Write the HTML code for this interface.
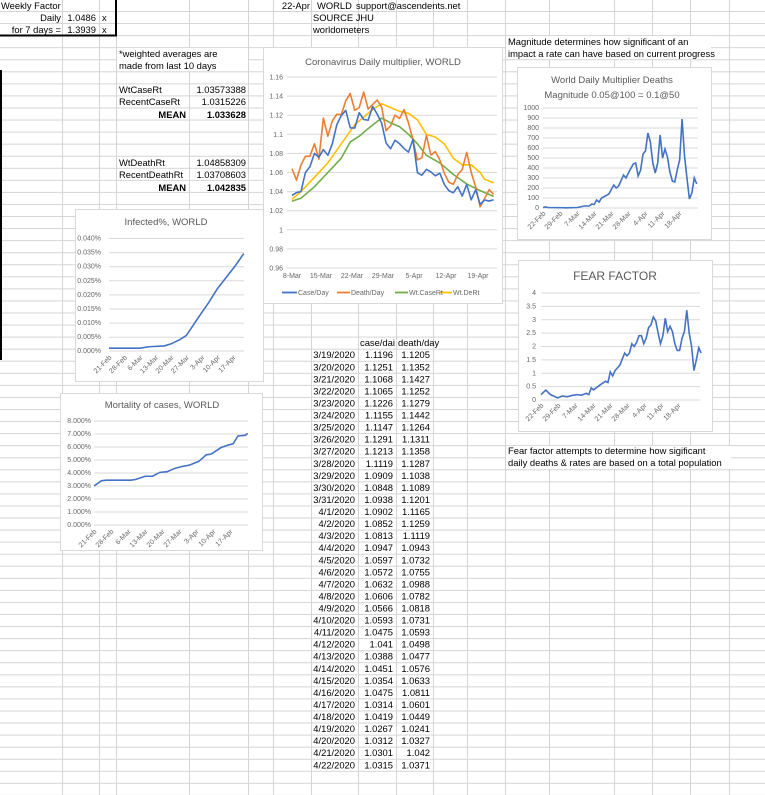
<!DOCTYPE html>
<html><head><meta charset="utf-8"><style>
html,body{margin:0;padding:0;background:#fff}
svg{display:block}
text{font-family:"Liberation Sans",sans-serif}
.c{font-size:9.4px;fill:#000}
.t{font-size:7px;fill:#666}
</style></head><body>
<svg width="765" height="795" viewBox="0 0 765 795" xmlns="http://www.w3.org/2000/svg">
<defs>
<pattern id="hr" x="0" y="11" width="765" height="12.06" patternUnits="userSpaceOnUse">
<rect x="0" y="0" width="765" height="1" fill="#d4d4d4"/>
</pattern>
</defs>
<rect width="765" height="795" fill="url(#hr)"/>
<g stroke="#d4d4d4" stroke-width="1">
<line x1="62.5" y1="0" x2="62.5" y2="795"/><line x1="99.5" y1="0" x2="99.5" y2="795"/>
<line x1="116.5" y1="0" x2="116.5" y2="795"/><line x1="189.5" y1="0" x2="189.5" y2="795"/>
<line x1="248.5" y1="0" x2="248.5" y2="795"/><line x1="273.5" y1="0" x2="273.5" y2="795"/>
<line x1="311.5" y1="0" x2="311.5" y2="795"/><line x1="358.5" y1="0" x2="358.5" y2="795"/>
<line x1="396.5" y1="0" x2="396.5" y2="795"/><line x1="433.5" y1="0" x2="433.5" y2="795"/>
<line x1="467.5" y1="0" x2="467.5" y2="795"/><line x1="505.5" y1="0" x2="505.5" y2="795"/>
<line x1="549.5" y1="0" x2="549.5" y2="795"/><line x1="614.5" y1="0" x2="614.5" y2="795"/>
<line x1="652.5" y1="0" x2="652.5" y2="795"/><line x1="690.5" y1="0" x2="690.5" y2="795"/>
<line x1="729.5" y1="0" x2="729.5" y2="795"/>
</g>
<rect x="117" y="48" width="131" height="23" fill="#fff"/>
<rect x="506" y="36" width="205" height="23" fill="#fff"/>
<rect x="506" y="446" width="225" height="23" fill="#fff"/>
<g stroke="#000" stroke-width="2">
<line x1="116" y1="0" x2="116" y2="36"/><line x1="0" y1="35.5" x2="117" y2="35.5"/>
<line x1="1" y1="70" x2="1" y2="360"/>
</g>
<text class="c" x="1" y="9">Weekly Factor</text>
<g class="c" text-anchor="end">
<text x="61" y="21">Daily</text><text x="96" y="21">1.0486</text>
<text x="61" y="33">for 7 days =</text><text x="96" y="33">1.3939</text>
</g>
<text class="c" x="102" y="21">x</text><text class="c" x="102" y="33">x</text>
<text class="c" x="119" y="57">*weighted averages are</text>
<text class="c" x="119" y="69">made from last 10 days</text>
<text class="c" x="119" y="93">WtCaseRt</text>
<text class="c" x="119" y="105">RecentCaseRt</text>
<text class="c" x="119" y="166">WtDeathRt</text>
<text class="c" x="119" y="178">RecentDeathRt</text>
<g class="c" text-anchor="end">
<text x="246" y="93">1.03573388</text><text x="246" y="105">1.0315226</text>
<text x="186" y="118" font-weight="bold">MEAN</text><text x="246" y="118" font-weight="bold">1.033628</text>
<text x="246" y="166">1.04858309</text><text x="246" y="178">1.03708603</text>
<text x="186" y="191" font-weight="bold">MEAN</text><text x="246" y="191" font-weight="bold">1.042835</text>
</g>
<text class="c" x="310" y="9" text-anchor="end">22-Apr</text>
<text class="c" x="317" y="9">WORLD</text>
<text class="c" x="356" y="9">support@ascendents.net</text>
<text class="c" x="313" y="21">SOURCE JHU</text>
<text class="c" x="313" y="33">worldometers</text>
<text class="c" x="508" y="45">Magnitude determines how significant of an</text>
<text class="c" x="508" y="57">impact a rate can have based on current progress</text>
<text class="c" x="508" y="454">Fear factor attempts to determine how sigificant</text>
<text class="c" x="508" y="466">daily deaths &amp; rates are based on a total population</text>
<text class="c" x="360" y="346">case/dai</text><text class="c" x="398" y="346">death/day</text>
<g class="c" text-anchor="end">
<text x="355" y="358.2">3/19/2020</text><text x="393" y="358.2">1.1196</text><text x="430" y="358.2">1.1205</text>
<text x="355" y="370.3">3/20/2020</text><text x="393" y="370.3">1.1251</text><text x="430" y="370.3">1.1352</text>
<text x="355" y="382.4">3/21/2020</text><text x="393" y="382.4">1.1068</text><text x="430" y="382.4">1.1427</text>
<text x="355" y="394.4">3/22/2020</text><text x="393" y="394.4">1.1065</text><text x="430" y="394.4">1.1252</text>
<text x="355" y="406.5">3/23/2020</text><text x="393" y="406.5">1.1226</text><text x="430" y="406.5">1.1279</text>
<text x="355" y="418.5">3/24/2020</text><text x="393" y="418.5">1.1155</text><text x="430" y="418.5">1.1442</text>
<text x="355" y="430.6">3/25/2020</text><text x="393" y="430.6">1.1147</text><text x="430" y="430.6">1.1264</text>
<text x="355" y="442.7">3/26/2020</text><text x="393" y="442.7">1.1291</text><text x="430" y="442.7">1.1311</text>
<text x="355" y="454.7">3/27/2020</text><text x="393" y="454.7">1.1213</text><text x="430" y="454.7">1.1358</text>
<text x="355" y="466.8">3/28/2020</text><text x="393" y="466.8">1.1119</text><text x="430" y="466.8">1.1287</text>
<text x="355" y="478.8">3/29/2020</text><text x="393" y="478.8">1.0909</text><text x="430" y="478.8">1.1038</text>
<text x="355" y="490.9">3/30/2020</text><text x="393" y="490.9">1.0848</text><text x="430" y="490.9">1.1089</text>
<text x="355" y="503.0">3/31/2020</text><text x="393" y="503.0">1.0938</text><text x="430" y="503.0">1.1201</text>
<text x="355" y="515.0">4/1/2020</text><text x="393" y="515.0">1.0902</text><text x="430" y="515.0">1.1165</text>
<text x="355" y="527.1">4/2/2020</text><text x="393" y="527.1">1.0852</text><text x="430" y="527.1">1.1259</text>
<text x="355" y="539.1">4/3/2020</text><text x="393" y="539.1">1.0813</text><text x="430" y="539.1">1.1119</text>
<text x="355" y="551.2">4/4/2020</text><text x="393" y="551.2">1.0947</text><text x="430" y="551.2">1.0943</text>
<text x="355" y="563.3">4/5/2020</text><text x="393" y="563.3">1.0597</text><text x="430" y="563.3">1.0732</text>
<text x="355" y="575.3">4/6/2020</text><text x="393" y="575.3">1.0572</text><text x="430" y="575.3">1.0755</text>
<text x="355" y="587.4">4/7/2020</text><text x="393" y="587.4">1.0632</text><text x="430" y="587.4">1.0988</text>
<text x="355" y="599.4">4/8/2020</text><text x="393" y="599.4">1.0606</text><text x="430" y="599.4">1.0782</text>
<text x="355" y="611.5">4/9/2020</text><text x="393" y="611.5">1.0566</text><text x="430" y="611.5">1.0818</text>
<text x="355" y="623.6">4/10/2020</text><text x="393" y="623.6">1.0593</text><text x="430" y="623.6">1.0731</text>
<text x="355" y="635.6">4/11/2020</text><text x="393" y="635.6">1.0475</text><text x="430" y="635.6">1.0593</text>
<text x="355" y="647.7">4/12/2020</text><text x="393" y="647.7">1.041</text><text x="430" y="647.7">1.0498</text>
<text x="355" y="659.7">4/13/2020</text><text x="393" y="659.7">1.0388</text><text x="430" y="659.7">1.0477</text>
<text x="355" y="671.8">4/14/2020</text><text x="393" y="671.8">1.0451</text><text x="430" y="671.8">1.0576</text>
<text x="355" y="683.9">4/15/2020</text><text x="393" y="683.9">1.0354</text><text x="430" y="683.9">1.0633</text>
<text x="355" y="695.9">4/16/2020</text><text x="393" y="695.9">1.0475</text><text x="430" y="695.9">1.0811</text>
<text x="355" y="708.0">4/17/2020</text><text x="393" y="708.0">1.0314</text><text x="430" y="708.0">1.0601</text>
<text x="355" y="720.0">4/18/2020</text><text x="393" y="720.0">1.0419</text><text x="430" y="720.0">1.0449</text>
<text x="355" y="732.1">4/19/2020</text><text x="393" y="732.1">1.0267</text><text x="430" y="732.1">1.0241</text>
<text x="355" y="744.2">4/20/2020</text><text x="393" y="744.2">1.0312</text><text x="430" y="744.2">1.0327</text>
<text x="355" y="756.2">4/21/2020</text><text x="393" y="756.2">1.0301</text><text x="430" y="756.2">1.042</text>
<text x="355" y="768.3">4/22/2020</text><text x="393" y="768.3">1.0315</text><text x="430" y="768.3">1.0371</text>
</g>

<rect x="263.5" y="47.5" width="239" height="256" fill="#fff" stroke="#d9d9d9"/>
<text x="383" y="65" text-anchor="middle" font-size="9.5" fill="#595959">Coronavirus Daily multiplier, WORLD</text>
<g stroke="#d9d9d9" stroke-width="1">
<line x1="287" x2="497" y1="77" y2="77"/><line x1="287" x2="497" y1="96.1" y2="96.1"/>
<line x1="287" x2="497" y1="115.2" y2="115.2"/><line x1="287" x2="497" y1="134.3" y2="134.3"/>
<line x1="287" x2="497" y1="153.4" y2="153.4"/><line x1="287" x2="497" y1="172.5" y2="172.5"/>
<line x1="287" x2="497" y1="191.6" y2="191.6"/><line x1="287" x2="497" y1="210.7" y2="210.7"/>
<line x1="287" x2="497" y1="229.8" y2="229.8"/><line x1="287" x2="497" y1="248.9" y2="248.9"/>
<line x1="287" x2="497" y1="268" y2="268"/>
</g>
<g class="t" text-anchor="end" font-size="6.5">
<text x="283" y="79.5">1.16</text><text x="283" y="98.6">1.14</text><text x="283" y="117.7">1.12</text>
<text x="283" y="136.8">1.1</text><text x="283" y="155.9">1.08</text><text x="283" y="175">1.06</text>
<text x="283" y="194.1">1.04</text><text x="283" y="213.2">1.02</text><text x="283" y="232.3">1</text>
<text x="283" y="251.4">0.98</text><text x="283" y="270.5">0.96</text>
</g>
<g class="t" text-anchor="middle" font-size="6.5">
<text x="292" y="278">8-Mar</text><text x="321" y="278">15-Mar</text><text x="352" y="278">22-Mar</text>
<text x="383" y="278">29-Mar</text><text x="414" y="278">5-Apr</text><text x="446" y="278">12-Apr</text>
<text x="478" y="278">19-Apr</text>
</g>
<g fill="none" stroke-width="1.6" stroke-linejoin="round" transform="matrix(4.48 0 0 -955 292 1184.8)">
<polyline vector-effect="non-scaling-stroke" stroke="#ffc000" points="0,1.032 2,1.04 5,1.055 8,1.07 11,1.09 14,1.11 16,1.118 18,1.126 20,1.132 22,1.128 24,1.124 26,1.122 28,1.115 30,1.1 32,1.097 34,1.09 36,1.075 38,1.068 40,1.068 42,1.06 43,1.053 45,1.049"/>
<polyline vector-effect="non-scaling-stroke" stroke="#70ad47" points="0,1.030 2,1.033 5,1.045 8,1.06 11,1.075 13,1.092 15,1.098 17,1.106 20,1.117 22,1.112 24,1.108 26,1.1 28,1.09 30,1.078 33,1.07 36,1.058 39,1.048 42,1.041 45,1.035"/>
<polyline vector-effect="non-scaling-stroke" stroke="#ed7d31" points="0,1.064 1,1.052 2,1.068 3,1.077 4,1.077 5,1.09 6,1.074 7,1.117 8,1.098 9,1.114 10,1.121 11,1.1205 12,1.1352 13,1.1427 14,1.1252 15,1.1279 16,1.1442 17,1.1264 18,1.1311 19,1.1358 20,1.1287 21,1.1038 22,1.1089 23,1.1201 24,1.1165 25,1.1259 26,1.1119 27,1.0943 28,1.0732 29,1.0755 30,1.0988 31,1.0782 32,1.0818 33,1.0731 34,1.0593 35,1.0498 36,1.0477 37,1.0576 38,1.0633 39,1.0811 40,1.0601 41,1.0449 42,1.0241 43,1.0327 44,1.042 45,1.0371"/>
<polyline vector-effect="non-scaling-stroke" stroke="#4472c4" points="0,1.036 1,1.039 2,1.040 3,1.06 4,1.066 5,1.08 6,1.076 7,1.084 8,1.078 9,1.09 10,1.11 11,1.1196 12,1.1251 13,1.1068 14,1.1065 15,1.1226 16,1.1155 17,1.1147 18,1.1291 19,1.1213 20,1.1119 21,1.0909 22,1.0848 23,1.0938 24,1.0902 25,1.0852 26,1.0813 27,1.0947 28,1.0597 29,1.0572 30,1.0632 31,1.0606 32,1.0566 33,1.0593 34,1.0475 35,1.041 36,1.0388 37,1.0451 38,1.0354 39,1.0475 40,1.0314 41,1.0419 42,1.0267 43,1.0312 44,1.0301 45,1.0315"/>
</g>
<g stroke-width="1.8">
<line x1="282" x2="297" y1="292.5" y2="292.5" stroke="#4472c4"/>
<line x1="337" x2="350" y1="292.5" y2="292.5" stroke="#ed7d31"/>
<line x1="395" x2="408" y1="292.5" y2="292.5" stroke="#70ad47"/>
<line x1="440" x2="452" y1="292.5" y2="292.5" stroke="#ffc000"/>
</g>
<g class="t" font-size="6.5">
<text x="298" y="295">Case/Day</text><text x="351" y="295">Death/Day</text>
<text x="409" y="295">Wt.CaseRt</text><text x="453" y="295">Wt.DeRt</text>
</g>

<rect x="75.5" y="209.5" width="188" height="172" fill="#fff" stroke="#d9d9d9"/>
<text x="166" y="225" text-anchor="middle" font-size="9.5" fill="#595959">Infected%, WORLD</text>
<g stroke="#d9d9d9"><line x1="109" x2="244" y1="238.5" y2="238.5"/><line x1="109" x2="244" y1="252.6" y2="252.6"/><line x1="109" x2="244" y1="266.7" y2="266.7"/><line x1="109" x2="244" y1="280.8" y2="280.8"/><line x1="109" x2="244" y1="294.9" y2="294.9"/><line x1="109" x2="244" y1="309" y2="309"/><line x1="109" x2="244" y1="323.1" y2="323.1"/><line x1="109" x2="244" y1="337.2" y2="337.2"/><line x1="109" x2="244" y1="351" y2="351"/></g>
<g class="t" font-size="5.5" text-anchor="end">
<text x="101" y="240.5">0.040%</text><text x="101" y="254.6">0.035%</text><text x="101" y="268.7">0.030%</text><text x="101" y="282.8">0.025%</text><text x="101" y="296.9">0.020%</text><text x="101" y="311">0.015%</text><text x="101" y="325.1">0.010%</text><text x="101" y="339.2">0.005%</text><text x="101" y="353">0.000%</text>
</g>
<g class="t" font-size="5.5" text-anchor="end">
<text transform="translate(112,358) rotate(-45)">21-Feb</text><text transform="translate(127.5,358) rotate(-45)">28-Feb</text><text transform="translate(143,358) rotate(-45)">6-Mar</text><text transform="translate(158.5,358) rotate(-45)">13-Mar</text><text transform="translate(174,358) rotate(-45)">20-Mar</text><text transform="translate(189.5,358) rotate(-45)">27-Mar</text><text transform="translate(205,358) rotate(-45)">3-Apr</text><text transform="translate(220.5,358) rotate(-45)">10-Apr</text><text transform="translate(236,358) rotate(-45)">17-Apr</text>
</g>
<polyline fill="none" stroke="#4472c4" stroke-width="1.6" vector-effect="non-scaling-stroke" transform="matrix(2.21 0 0 -2825 109 351)" points="0,0.001 14,0.001 18,0.0015 25,0.0018 28,0.0025 32,0.004 35,0.0055 38,0.009 41,0.0125 45,0.017 49,0.022 53,0.026 57,0.03 61,0.0345"/>

<rect x="60.5" y="393.5" width="202" height="157" fill="#fff" stroke="#d9d9d9"/>
<text x="162" y="408" text-anchor="middle" font-size="9.5" fill="#595959">Mortality of cases, WORLD</text>
<g stroke="#d9d9d9"><line x1="94" x2="248" y1="421" y2="421"/><line x1="94" x2="248" y1="434" y2="434"/><line x1="94" x2="248" y1="447" y2="447"/><line x1="94" x2="248" y1="460" y2="460"/><line x1="94" x2="248" y1="473" y2="473"/><line x1="94" x2="248" y1="486" y2="486"/><line x1="94" x2="248" y1="499" y2="499"/><line x1="94" x2="248" y1="512" y2="512"/><line x1="94" x2="248" y1="525" y2="525"/></g>
<g class="t" font-size="5.5" text-anchor="end">
<text x="91" y="423">8.000%</text><text x="91" y="436">7.000%</text><text x="91" y="449">6.000%</text><text x="91" y="462">5.000%</text><text x="91" y="475">4.000%</text><text x="91" y="488">3.000%</text><text x="91" y="501">2.000%</text><text x="91" y="514">1.000%</text><text x="91" y="527">0.000%</text>
</g>
<g class="t" font-size="5.5" text-anchor="end">
<text transform="translate(97,532) rotate(-45)">21-Feb</text><text transform="translate(114,532) rotate(-45)">28-Feb</text><text transform="translate(131,532) rotate(-45)">6-Mar</text><text transform="translate(148,532) rotate(-45)">13-Mar</text><text transform="translate(165,532) rotate(-45)">20-Mar</text><text transform="translate(182,532) rotate(-45)">27-Mar</text><text transform="translate(199,532) rotate(-45)">3-Apr</text><text transform="translate(216,532) rotate(-45)">10-Apr</text><text transform="translate(233,532) rotate(-45)">17-Apr</text>
</g>
<polyline fill="none" stroke="#4472c4" stroke-width="1.6" vector-effect="non-scaling-stroke" transform="matrix(2.44 0 0 -13 94 525)" points="0,3.0 3,3.4 5,3.45 15,3.45 17,3.5 21,3.75 24,3.75 27,4.05 30,4.1 33,4.35 36,4.5 39,4.6 43,4.9 46,5.4 48,5.45 52,5.95 55,6.15 57,6.25 59,6.85 62,6.9 63,7.05"/>

<rect x="517.5" y="67.5" width="194" height="172" fill="#fff" stroke="#d9d9d9"/>
<text x="612" y="83" text-anchor="middle" font-size="9.5" fill="#595959">World Daily Multiplier Deaths</text>
<text x="612" y="98" text-anchor="middle" font-size="9.5" fill="#595959">Magnitude 0.05@100 = 0.1@50</text>
<g stroke="#d9d9d9"><line x1="543" x2="698" y1="108" y2="108"/><line x1="543" x2="698" y1="118" y2="118"/><line x1="543" x2="698" y1="128" y2="128"/><line x1="543" x2="698" y1="138" y2="138"/><line x1="543" x2="698" y1="148" y2="148"/><line x1="543" x2="698" y1="158" y2="158"/><line x1="543" x2="698" y1="168" y2="168"/><line x1="543" x2="698" y1="178" y2="178"/><line x1="543" x2="698" y1="188" y2="188"/><line x1="543" x2="698" y1="198" y2="198"/><line x1="543" x2="698" y1="208" y2="208"/></g>
<g class="t" font-size="5.5" text-anchor="end">
<text x="539" y="110">1000</text><text x="539" y="120">900</text><text x="539" y="130">800</text><text x="539" y="140">700</text><text x="539" y="150">600</text><text x="539" y="160">500</text><text x="539" y="170">400</text><text x="539" y="180">300</text><text x="539" y="190">200</text><text x="539" y="200">100</text><text x="539" y="210">0</text>
</g>
<g class="t" font-size="5.5" text-anchor="end">
<text transform="translate(546,214) rotate(-45)">22-Feb</text><text transform="translate(563,214) rotate(-45)">29-Feb</text><text transform="translate(580,214) rotate(-45)">7-Mar</text><text transform="translate(597,214) rotate(-45)">14-Mar</text><text transform="translate(614,214) rotate(-45)">21-Mar</text><text transform="translate(631,214) rotate(-45)">28-Mar</text><text transform="translate(648,214) rotate(-45)">4-Apr</text><text transform="translate(665,214) rotate(-45)">11-Apr</text><text transform="translate(682,214) rotate(-45)">18-Apr</text>
</g>
<polyline fill="none" stroke="#4472c4" stroke-width="1.6" vector-effect="non-scaling-stroke" transform="matrix(2.44 0 0 -0.1 543 208)" points="0,5 1,10 2,5 10,2 14,5 17,20 19,20 20,40 21,35 22,80 23,60 24,100 27,140 29,230 30,200 31,220 33,330 34,300 35,350 37,440 38,450 39,320 40,380 41,540 42,570 43,750 44,660 45,450 46,350 47,450 48,730 49,500 50,590 51,510 52,360 53,270 54,260 55,380 56,480 57,890 58,520 59,300 60,90 61,150 62,300 63,240"/>

<rect x="518.5" y="260.5" width="194" height="171" fill="#fff" stroke="#d9d9d9"/>
<text x="615" y="280" text-anchor="middle" font-size="12" fill="#595959">FEAR FACTOR</text>
<g stroke="#d9d9d9"><line x1="541" x2="700" y1="293" y2="293"/><line x1="541" x2="700" y1="306.4" y2="306.4"/><line x1="541" x2="700" y1="319.8" y2="319.8"/><line x1="541" x2="700" y1="333.1" y2="333.1"/><line x1="541" x2="700" y1="346.5" y2="346.5"/><line x1="541" x2="700" y1="359.9" y2="359.9"/><line x1="541" x2="700" y1="373.3" y2="373.3"/><line x1="541" x2="700" y1="386.6" y2="386.6"/><line x1="541" x2="700" y1="400" y2="400"/></g>
<g class="t" font-size="5.5" text-anchor="end">
<text x="536" y="295">4</text><text x="536" y="308.4">3.5</text><text x="536" y="321.8">3</text><text x="536" y="335.1">2.5</text><text x="536" y="348.5">2</text><text x="536" y="361.9">1.5</text><text x="536" y="375.3">1</text><text x="536" y="388.6">0.5</text><text x="536" y="402">0</text>
</g>
<g class="t" font-size="5.5" text-anchor="end">
<text transform="translate(544,406) rotate(-45)">22-Feb</text><text transform="translate(561,406) rotate(-45)">29-Feb</text><text transform="translate(578,406) rotate(-45)">7-Mar</text><text transform="translate(596,406) rotate(-45)">14-Mar</text><text transform="translate(613,406) rotate(-45)">21-Mar</text><text transform="translate(630,406) rotate(-45)">28-Mar</text><text transform="translate(647,406) rotate(-45)">4-Apr</text><text transform="translate(664,406) rotate(-45)">11-Apr</text><text transform="translate(681,406) rotate(-45)">18-Apr</text>
</g>
<polyline fill="none" stroke="#4472c4" stroke-width="1.6" vector-effect="non-scaling-stroke" transform="matrix(2.39 0 0 -26.8 541 400)" points="0,0.2 2,0.37 4,0.2 7,0.08 9,0.15 11,0.12 13,0.17 15,0.2 17,0.18 19,0.25 20,0.2 21,0.45 22,0.38 25,0.58 27,0.7 28,0.65 29,1.05 30,0.9 31,1.1 33,1.3 35,1.75 36,1.65 37,1.75 38,2.1 39,2.0 40,2.15 41,2.4 42,2.4 43,2.1 44,2.3 45,2.7 46,2.8 47,3.1 48,2.95 49,2.5 50,2.1 51,2.4 52,3.05 53,2.55 54,2.75 55,2.55 56,2.1 57,1.85 58,1.85 59,2.3 60,2.55 61,3.35 62,2.5 63,2.0 64,1.1 65,1.5 66,1.95 67,1.75"/>
</svg>
</body></html>
